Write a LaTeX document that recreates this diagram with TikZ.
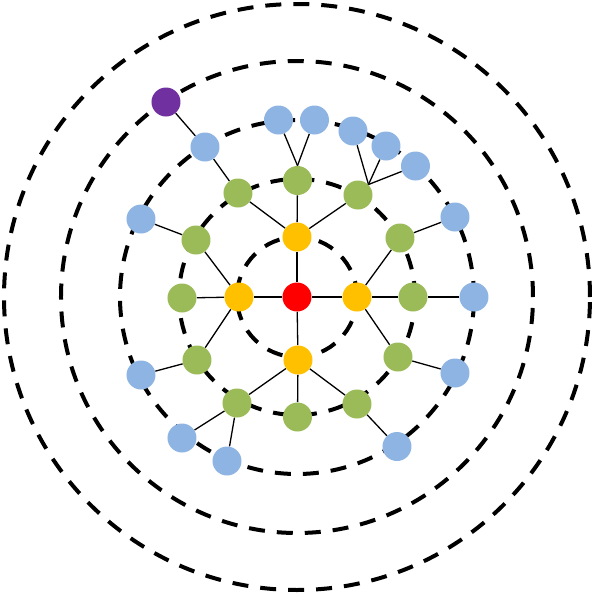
\documentclass[tikz,border=0pt]{standalone}
\usepackage{xcolor}
\usepackage{tikz}
\usetikzlibrary{backgrounds}
\definecolor{rgRed}   {RGB}{255,  0,  0}
\definecolor{rgYellow}{RGB}{255,192,  0}
\definecolor{rgGreen} {RGB}{155,187, 89}
\definecolor{rgBlue}  {RGB}{141,180,226}
\definecolor{rgPurple}{RGB}{112, 48,160}

\begin{document}
\begin{tikzpicture}[
    ring/.style={draw=black,line width=0.08cm,dash pattern=on 0.32cm off 0.24cm},
    link/.style={draw=black,line width=0.026cm},
    dot/.style={circle,minimum size=0.58cm,inner sep=0pt,draw=none},
    root/.style={dot,fill=rgRed},
    hub/.style={dot,fill=rgYellow},
    mid/.style={dot,fill=rgGreen},
    leaf/.style={dot,fill=rgBlue},
    far/.style={dot,fill=rgPurple}
  ]
  \useasboundingbox (-5.94,-5.94) rectangle (5.94,5.94);
  % Rings
  \foreach \r in {1.20,2.36,3.54,4.72,5.86}
    \draw[ring] (0,0) circle (\r);
  % Centre and hubs
  \node[root] (c)  at (0,0)       {};
  \node[hub]  (yL) at (-1.16,0)   {};
  \node[hub]  (yR) at (1.20,0)    {};
  \node[hub]  (yT) at (0,1.20)    {};
  \node[hub]  (yB) at (0.02,-1.26){};
  % Second ring
  \node[mid] (gL)  at (-2.30,-0.02) {};
  \node[mid] (gR)  at (2.32,0)      {};
  \node[mid] (gTL) at (-1.18,2.08)  {};
  \node[mid] (gT)  at (0.01,2.33)   {};
  \node[mid] (gTR) at (1.22,2.04)   {};
  \node[mid] (gUL) at (-2.02,1.14)  {};
  \node[mid] (gUR) at (2.06,1.18)   {};
  \node[mid] (gDL) at (-2.00,-1.26) {};
  \node[mid] (gDR) at (2.02,-1.20)  {};
  \node[mid] (gBL) at (-1.20,-2.12) {};
  \node[mid] (gB)  at (0.01,-2.40)  {};
  \node[mid] (gBR) at (1.20,-2.14)  {};
  % Third ring
  \node[leaf] (b1)  at (-1.84,3.00)  {};
  \node[leaf] (b2)  at (-0.37,3.54)  {};
  \node[leaf] (b3)  at (0.35,3.54)   {};
  \node[leaf] (b4)  at (1.12,3.32)   {};
  \node[leaf] (b5)  at (1.78,3.02)   {};
  \node[leaf] (b6)  at (2.37,2.62)   {};
  \node[leaf] (b7)  at (-3.12,1.56)  {};
  \node[leaf] (b8)  at (3.16,1.60)   {};
  \node[leaf] (b9)  at (3.54,0)      {};
  \node[leaf] (b10) at (-3.12,-1.56) {};
  \node[leaf] (b11) at (3.16,-1.52)  {};
  \node[leaf] (b12) at (-2.30,-2.82) {};
  \node[leaf] (b13) at (-1.40,-3.28) {};
  \node[leaf] (b14) at (2.00,-2.99)  {};
  % Fourth ring
  \node[far] (p1) at (-2.62,3.90) {};
  % Links
  \foreach \a/\b in {c/yL,c/yR,c/yT,c/yB,
                     yL/gL,yL/gUL,yL/gDL,yT/gTL,yT/gT,yT/gTR,
                     yR/gR,yR/gUR,yR/gDR,yB/gBL,yB/gB,yB/gBR,
                     gTL/b1,b1/p1,gUL/b7,gUR/b8,gR/b9,gDL/b10,
                     gDR/b11,gBL/b12,gBL/b13,gBR/b14}
    \draw[link] (\a) -- (\b);
  \draw[link] (gT.north) -- (b2);
  \draw[link] (gT.north) -- (b3);
  \foreach \b in {b4,b5,b6}
    \draw[link] (gTR.north east) -- (\b);
\end{tikzpicture}
\end{document}
